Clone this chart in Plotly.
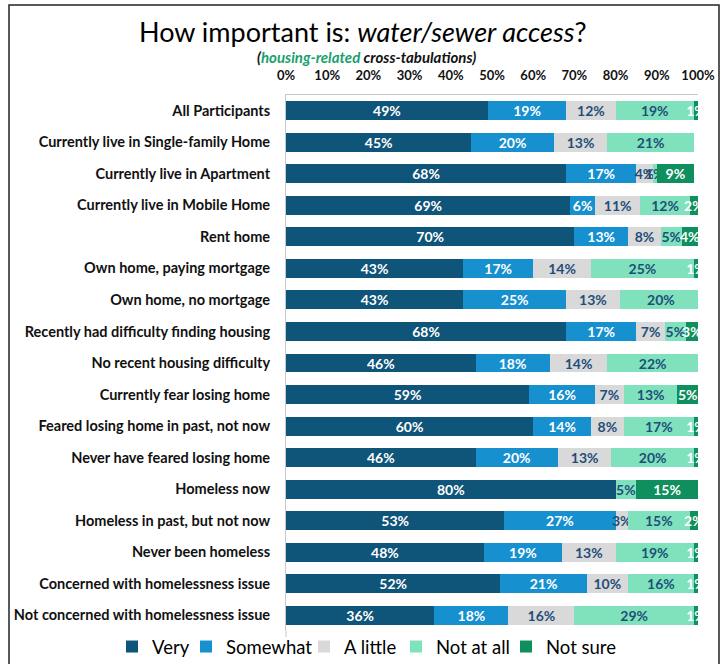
import plotly.graph_objects as go

categories = [
    "All Participants",
    "Currently live in Single-family Home",
    "Currently live in Apartment",
    "Currently live in Mobile Home",
    "Rent home",
    "Own home, paying mortgage",
    "Own home, no mortgage",
    "Recently had difficulty finding housing",
    "No recent housing difficulty",
    "Currently fear losing home",
    "Feared losing home in past, not now",
    "Never have feared losing home",
    "Homeless now",
    "Homeless in past, but not now",
    "Never been homeless",
    "Concerned with homelessness issue",
    "Not concerned with homelessness issue",
]

very =       [49, 45, 68, 69, 70, 43, 43, 68, 46, 59, 60, 46, 80, 53, 48, 52, 36]
somewhat =   [19, 20, 17, 6, 13, 17, 25, 17, 18, 16, 14, 20, 0, 27, 19, 21, 18]
a_little =   [12, 13, 4, 11, 8, 14, 13, 7, 14, 7, 8, 13, 0, 3, 13, 10, 16]
not_at_all = [19, 21, 1, 12, 5, 25, 20, 5, 22, 13, 17, 20, 5, 15, 19, 16, 29]
not_sure =   [1, 0, 9, 2, 4, 1, 0, 3, 0, 5, 1, 1, 15, 2, 1, 1, 1]

series_names = ["Very", "Somewhat", "A little", "Not at all", "Not sure"]
series_values = [very, somewhat, a_little, not_at_all, not_sure]
series_colors = ["#0f5479", "#1790d0", "#d9d9d9", "#80e2bc", "#0e8f5d"]
text_colors = ["white", "white", "#1f4e79", "#1f4e79", "white"]

FONT = "Lato"

L, R, T, B = 286, 698, 95, 631
W, H = 725, 664
pw, ph = R - L, B - T

def px_x(x):
    return (x - L) / pw

def px_y(y):
    return (B - y) / ph

# legend square centres in the reference (screen px)
legend_centres = [133, 207, 325, 417, 527]
legend_ids = ["legend", "legend2", "legend3", "legend4", "legend5"]

fig = go.Figure()
for name, vals, col, tc, lid in zip(series_names, series_values, series_colors, text_colors, legend_ids):
    fig.add_trace(go.Bar(
        y=categories, x=vals, name=name, orientation="h",
        marker=dict(color=col, line=dict(width=0)),
        text=[f"{v}%" for v in vals],
        textposition="inside", insidetextanchor="middle", textangle=0,
        textfont=dict(color=tc, size=14, family=FONT, weight="bold"),
        cliponaxis=True,
        hoverinfo="skip",
        legend=lid,
    ))

legend_layout = {}
for lid, cx in zip(legend_ids, legend_centres):
    legend_layout[lid] = dict(
        orientation="h", x=px_x(cx - 21), xanchor="left",
        y=px_y(647), yanchor="middle",
        font=dict(size=18.5, family=FONT, color="#000000"),
        itemwidth=30, itemclick=False, bgcolor="rgba(0,0,0,0)",
        borderwidth=0,
    )

fig.update_layout(
    width=W, height=H,
    margin=dict(l=L, r=W - R, t=T, b=H - B, pad=0, autoexpand=False),
    barmode="stack", bargap=0.4,
    plot_bgcolor="white", paper_bgcolor="white",
    uniformtext=dict(minsize=14, mode="show"),
    font=dict(family=FONT, color="#000000"),
    showlegend=True,
    xaxis=dict(side="top", range=[0, 100], tickvals=list(range(0, 101, 10)),
               ticktext=[f"{v}%" for v in range(0, 101, 10)],
               tickfont=dict(size=13, family=FONT, weight="bold", color="#111111"),
               showgrid=False, zeroline=False, showline=True, linecolor="#c8c8c8",
               linewidth=1, mirror=False, ticks="outside", ticklen=9, tickcolor="rgba(0,0,0,0)",
               fixedrange=True, automargin=False),
    yaxis=dict(autorange="reversed", categoryorder="array", categoryarray=categories,
               tickfont=dict(size=14.5, family=FONT, weight="bold", color="#111111"),
               showgrid=False, zeroline=False, showline=True, linecolor="#c8c8c8",
               linewidth=1, mirror=False, ticks="outside", ticklen=12, tickcolor="rgba(0,0,0,0)",
               fixedrange=True, automargin=False),
    shapes=[dict(type="rect", xref="paper", yref="paper",
                 x0=px_x(9), x1=px_x(719), y0=px_y(690), y1=px_y(5),
                 line=dict(color="#222222", width=1.5), fillcolor="rgba(0,0,0,0)", layer="below"),
            dict(type="line", xref="paper", yref="paper",
                 x0=0, x1=0, y0=px_y(637), y1=0,
                 line=dict(color="#c8c8c8", width=1), layer="below")],
    annotations=[
        dict(xref="paper", yref="paper", x=px_x(363), y=px_y(31), xanchor="center", yanchor="middle",
             text="How important is: <i>water/sewer access</i>?", showarrow=False,
             font=dict(size=27, family=FONT, color="#000000")),
        dict(xref="paper", yref="paper", x=px_x(366), y=px_y(57), xanchor="center", yanchor="middle",
             text="<i>(<span style='color:#1aa06e'>housing-related</span> cross-tabulations)</i>",
             showarrow=False, font=dict(size=15, family=FONT, color="#111111", weight="bold")),
    ],
    **legend_layout,
)

fig.write_html("out.html", config={"displayModeBar": False},
               post_script="document.body.style.margin='0';")
